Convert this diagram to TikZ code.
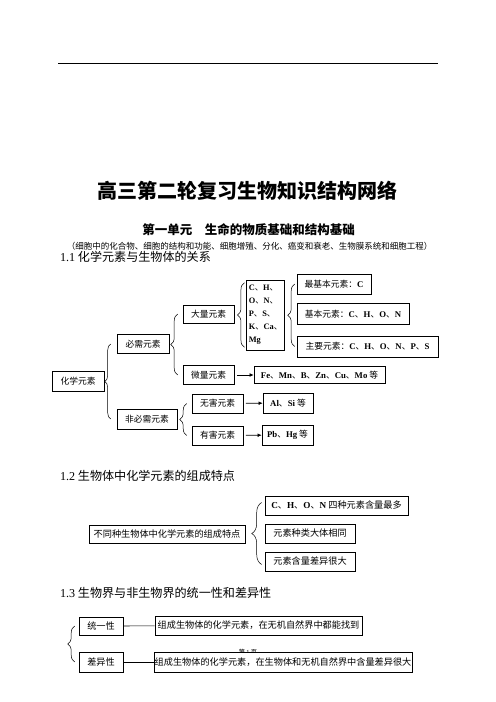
\documentclass[tikz,border=0pt]{standalone}
\usepackage{fontspec}
\setmainfont{Noto Sans CJK SC}
\newfontfamily\latinfont{Liberation Serif}
\usetikzlibrary{arrows.meta,decorations.pathreplacing,calc}

\newcommand\el[1]{{\latinfont\bfseries #1}}

\begin{document}
\begin{tikzpicture}[x=1.2pt,y=-1.2pt,
    box/.style={draw,line width=0.7pt,fill=white,inner sep=1pt,minimum height=22.8pt,font=\fontsize{10.5}{12.6}\selectfont},
    dabox/.style={box,font=\fontsize{11}{13}\selectfont},
    kuo/.style={decorate,decoration={brace,amplitude=#1},line width=0.6pt},
    jiantou/.style={-{Latex[length=5pt,width=4.5pt]},line width=0.8pt,shorten <=3pt},
    biaoti/.style={anchor=west,inner sep=0pt,font=\fontsize{14.5}{17}\selectfont}]
  \useasboundingbox (0,0) rectangle (496,702);
  % Page rule and titles
  \draw[line width=1pt] (58,63) -- (438,63);
  \node[font=\bfseries\fontsize{24}{28}\selectfont] (title) at (247.5,191) {高三第二轮复习生物知识结构网络};
  \node[font=\bfseries\fontsize{15}{18}\selectfont] (unit) at (248.5,230) {第一单元　生命的物质基础和结构基础};
  \node[font=\fontsize{10.2}{12}\selectfont] (note) at (249.5,246) {（细胞中的化合物、细胞的结构和功能、细胞增殖、分化、癌变和衰老、生物膜系统和细胞工程）};

  % 1.1
  \node[biaoti] (s1) at (60,257) {{\latinfont 1.1} 化学元素与生物体的关系};
  \node[box,minimum width=62.4pt,minimum height=24pt] (hx) at (78,381) {化学元素};
  \node[box,minimum width=62.4pt] (bx) at (143,344) {必需元素};
  \node[box,minimum width=72pt,minimum height=24pt] (fbx) at (147,419) {非必需元素};
  \node[box,minimum width=61.2pt,minimum height=21.6pt] (dl) at (208.5,314) {大量元素};
  \node[box,minimum width=61.2pt] (wl) at (208.5,375) {微量元素};
  \node[box,minimum width=61.2pt] (wh) at (217.5,403.5) {无害元素};
  \node[box,minimum width=61.2pt] (yh) at (217.5,435.5) {有害元素};
  \node[box,minimum width=44.4pt,minimum height=84pt,inner xsep=2.5pt,align=left,font=\fontsize{10}{15.6}\selectfont] (dlys) at (265.5,315)
    {\el{C}、\el{H}、\\\el{O}、\el{N}、\\\el{P}、\el{S}、\\\el{K}、\el{Ca}、\\\el{Mg}};
  \node[box,minimum width=88.8pt,minimum height=24pt] (zjb) at (334,284) {最基本元素：\el{C}};
  \node[box,minimum width=134.4pt,minimum height=25.2pt] (jb) at (353,314) {基本元素：\el{C}、\el{H}、\el{O}、\el{N}};
  \node[box,minimum width=169.2pt,minimum height=25.2pt] (zy) at (367.5,346.5) {主要元素：\el{C}、\el{H}、\el{O}、\el{N}、\el{P}、\el{S}};
  \node[box,minimum width=157.2pt,minimum height=20.4pt] (wlys) at (319.5,375) {\el{Fe}、\el{Mn}、\el{B}、\el{Zn}、\el{Cu}、\el{Mo} 等};
  \node[box,minimum width=60pt,minimum height=24pt] (al) at (288,403) {\el{Al}、\el{Si} 等};
  \node[box,minimum width=61.2pt,minimum height=24pt] (pb) at (287.5,435) {\el{Pb}、\el{Hg} 等};
  % braces and arrows
  \draw[kuo=7.2pt] ($(fbx.west)+(-6,0)$) -- ($(bx.west)+(-6,0)$);
  \draw[kuo=8.4pt] ($(wl.west)+(-5,0)$) -- ($(dl.west)+(-5,0)$);
  \draw[kuo=8.4pt] ($(yh.west)+(-5,0)$) -- ($(wh.west)+(-5,0)$);
  \draw[kuo=8.4pt] ($(dlys.south west)+(-2,-3)$) -- ($(dlys.north west)+(-2,3)$);
  \draw[kuo=8.4pt] ($(zy.west)+(-2,0)$) -- ($(zjb.west)+(-2,0)$);
  \draw[jiantou] (wl) -- (wlys);
  \draw[jiantou] (wh) -- (al);
  \draw[jiantou] (yh) -- (pb);

  % 1.2
  \node[biaoti] (s2) at (60,476) {{\latinfont 1.2} 生物体中化学元素的组成特点};
  \node[dabox,minimum width=187.2pt,minimum height=21.6pt] (tz) at (167,534) {不同种生物体中化学元素的组成特点};
  \node[dabox,minimum width=171.6pt] (ta) at (336.5,505.5) {\el{C}、\el{H}、\el{O}、\el{N} 四种元素含量最多};
  \node[dabox,minimum width=108pt] (tb) at (310,533.5) {元素种类大体相同};
  \node[dabox,minimum width=108pt] (tc) at (310,561.5) {元素含量差异很大};
  \draw[kuo=12pt] ($(tc.west)+(-3,3)$) -- ($(ta.west)+(-3,-3)$);

  % 1.3
  \node[biaoti] (s3) at (60,593) {{\latinfont 1.3} 生物界与非生物界的统一性和差异性};
  \node[font=\fontsize{7.5}{9}\selectfont] (ye) at (248,652) {第 {\latinfont 1} 页};
  \node[dabox,minimum width=52.8pt,minimum height=21.6pt] (ty) at (101,626) {统一性};
  \node[dabox,minimum width=52.8pt,minimum height=24pt] (cy) at (101,662) {差异性};
  \node[dabox,minimum width=248.4pt] (tyt) at (258.5,625.5) {组成生物体的化学元素，在无机自然界中都能找到};
  \node[dabox,minimum width=307.2pt,minimum height=24pt] (cyt) at (283,662) {组成生物体的化学元素，在生物体和无机自然界中含量差异很大};
  \draw[line width=0.8pt] (ty) -- (tyt);
  \draw[line width=0.8pt] (cy) -- (cyt);
  \draw[kuo=8.4pt] ($(cy.west)+(-4,0)$) -- ($(ty.west)+(-4,0)$);
\end{tikzpicture}
\end{document}
